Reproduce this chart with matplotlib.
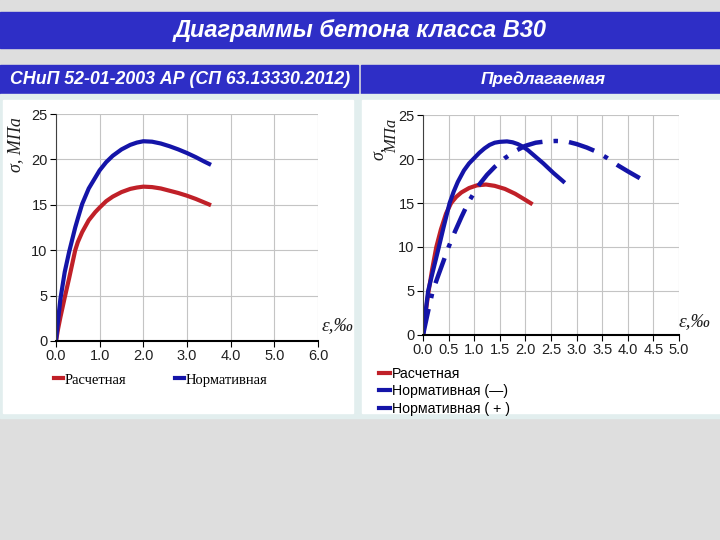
import matplotlib
matplotlib.use("Agg")
import matplotlib.pyplot as plt
from matplotlib.patches import Rectangle
from matplotlib.lines import Line2D

# --- data ---
title = "Диаграммы бетона класса В30"
header_left = "СНиП 52-01-2003 АР (СП 63.13330.2012)"
header_right = "Предлагаемая"

# left chart (SNiP)
eps_left = [0, 0.05, 0.1, 0.2, 0.3, 0.44, 0.5, 0.6, 0.75, 0.9, 1.0, 1.15, 1.3, 1.5, 1.7, 1.85, 2.0,
            2.2, 2.4, 2.6, 2.8, 3.0, 3.2, 3.4, 3.55]
calc_left = [0, 1.4, 2.6, 4.8, 6.9, 10.0, 10.9, 12.0, 13.3, 14.2, 14.7, 15.4, 15.9, 16.4, 16.75, 16.9, 17.0,
             16.95, 16.8, 16.55, 16.3, 16.0, 15.65, 15.25, 14.95]
norm_left = [0, 2.4, 4.6, 7.6, 9.8, 12.5, 13.5, 15.1, 16.8, 18.0, 18.8, 19.7, 20.4, 21.1, 21.6, 21.85, 22.0,
             21.95, 21.75, 21.45, 21.1, 20.7, 20.25, 19.75, 19.4]
xticks_left = [0, 1, 2, 3, 4, 5, 6]

# right chart (proposed)
eps_calc_right = [0, 0.05, 0.11, 0.18, 0.26, 0.35, 0.45, 0.55, 0.65, 0.75, 0.9, 1.05, 1.23, 1.4, 1.6,
                  1.8, 2.0, 2.14]
calc_right = [0, 2.5, 5.0, 7.5, 10.0, 12.0, 13.8, 15.0, 15.7, 16.2, 16.7, 17.0, 17.1, 16.95, 16.6,
              16.05, 15.35, 14.85]
eps_norm_right = [0, 0.05, 0.1, 0.2, 0.31, 0.4, 0.52, 0.6, 0.68, 0.8, 0.9, 1.0, 1.1, 1.2, 1.3, 1.4, 1.5,
                  1.64, 1.75, 1.85, 1.95, 2.05, 2.15, 2.25, 2.35, 2.45, 2.55, 2.65, 2.77]
norm_right = [0, 2.6, 5.0, 7.4, 10.0, 12.2, 15.0, 16.3, 17.4, 18.7, 19.5, 20.1, 20.7, 21.2, 21.6, 21.85, 21.95,
              22.0, 21.9, 21.7, 21.4, 21.0, 20.5, 20.0, 19.5, 18.95, 18.4, 17.9, 17.3]
eps_plus_right = [0, 0.1, 0.19, 0.3, 0.4, 0.5, 0.62, 0.75, 0.88, 1.0, 1.1, 1.25, 1.4, 1.6, 1.8, 2.0, 2.2,
                  2.4, 2.6, 2.8, 3.0, 3.2, 3.4, 3.6, 3.8, 4.0, 4.15, 4.3]
plus_right = [0, 2.7, 5.0, 6.8, 8.4, 10.0, 11.7, 13.4, 15.0, 16.2, 17.1, 18.2, 19.1, 20.1, 20.9, 21.5, 21.85,
              22.0, 22.05, 22.0, 21.7, 21.3, 20.8, 20.1, 19.3, 18.6, 18.1, 17.6]
xticks_right = [0, 0.5, 1, 1.5, 2, 2.5, 3, 3.5, 4, 4.5, 5]

yticks = [0, 5, 10, 15, 20, 25]

red = '#C02028'
blue = '#1414A8'
bar_blue = '#2E2EC6'
W, H = 720, 540

fig = plt.figure(figsize=(7.2, 5.4), dpi=100)
fig.patch.set_facecolor('#DCDCDC')

# background layer in pixel coordinates
bg = fig.add_axes([0, 0, 1, 1], zorder=0)
bg.set_xlim(0, W)
bg.set_ylim(H, 0)
bg.axis('off')
bg.add_patch(Rectangle((0, 0), W, H, color='#DEDEDE'))
bg.add_patch(Rectangle((0, 12), W, 36, color=bar_blue))
bg.text(W / 2, 31, title, color='white', fontsize=17, fontweight='bold', style='italic',
        family='Liberation Sans', ha='center', va='center')
bg.add_patch(Rectangle((0, 65), 358, 29, color=bar_blue))
bg.add_patch(Rectangle((361, 65), 359, 29, color=bar_blue))
bg.text(180, 79.5, header_left, color='white', fontsize=12.8, fontweight='bold', style='italic',
        family='Liberation Sans', ha='center', va='center')
bg.text(543, 79.5, header_right, color='white', fontsize=12.5, fontweight='bold', style='italic',
        family='Liberation Sans', ha='center', va='center')
bg.add_patch(Rectangle((0, 94), W, 324, color='#E2EEEE'))
bg.add_patch(Rectangle((3, 100), 350, 313, color='white'))
bg.add_patch(Rectangle((362, 100), 358, 313, color='white'))


def style_axes(ax, xticks, xfmt):
    ax.set_facecolor('white')
    ax.set_ylim(0, 25)
    ax.set_xlim(xticks[0], xticks[-1])
    ax.set_yticks(yticks)
    ax.set_xticks(xticks)
    ax.set_xticklabels([xfmt.format(t) for t in xticks])
    ax.grid(True, color='#C4C4C4', linewidth=0.8)
    ax.set_axisbelow(True)
    for s in ['top', 'right']:
        ax.spines[s].set_visible(False)
    ax.spines['left'].set_color('#404040')
    ax.spines['bottom'].set_color('black')
    ax.spines['bottom'].set_linewidth(1.5)
    ax.tick_params(axis='both', labelsize=10.5, length=4, color='black', pad=2)
    for lbl in ax.get_xticklabels() + ax.get_yticklabels():
        lbl.set_family('Liberation Sans')
        lbl.set_color('#202020')


# left chart
ax1 = fig.add_axes([56 / W, 1 - 341 / H, 262 / W, 227 / H], zorder=2)
style_axes(ax1, xticks_left, '{:.1f}')
ax1.plot(eps_left, calc_left, color=red, linewidth=3, solid_capstyle='butt', solid_joinstyle='round')
ax1.plot(eps_left, norm_left, color=blue, linewidth=3, solid_capstyle='butt', solid_joinstyle='round')

# right chart
ax2 = fig.add_axes([423 / W, 1 - 335 / H, 256 / W, 220 / H], zorder=2)
style_axes(ax2, xticks_right, '{:.1f}')
ax2.plot(eps_calc_right, calc_right, color=red, linewidth=3, solid_capstyle='butt', solid_joinstyle='round')
ax2.plot(eps_norm_right, norm_right, color=blue, linewidth=3, solid_capstyle='butt', solid_joinstyle='round')
ax2.plot(eps_plus_right, plus_right, color=blue, linewidth=3.2, linestyle=(0, (6, 2.5, 1, 2.5)))

# axis captions (serif italic)
serif = dict(family='Liberation Serif', style='italic', color='#202020')
bg.text(16, 145, 'σ, МПа', rotation=90, fontsize=13, ha='center', va='center', **serif)
bg.text(338, 326, 'ε,‰', fontsize=14, ha='center', va='center', **serif)
bg.text(378, 153, 'σ,', rotation=90, fontsize=13, ha='center', va='center', **serif)
bg.text(392, 136, 'МПа', rotation=90, fontsize=12, ha='center', va='center', **serif)
bg.text(695, 322, 'ε,‰', fontsize=14, ha='center', va='center', **serif)

# left legend
h_left = [Line2D([], [], color=red, linewidth=3), Line2D([], [], color=blue, linewidth=3)]
fig.legend(h_left, ['Расчетная', 'Нормативная'], loc='center left',
           bbox_to_anchor=(41 / W, 1 - 380 / H), ncol=2, frameon=False, handlelength=0.6,
           handletextpad=0.15, columnspacing=3.3, prop={'family': 'Liberation Serif', 'size': 10.5})

# right legend
h_right = [Line2D([], [], color=red, linewidth=3), Line2D([], [], color=blue, linewidth=3),
           Line2D([], [], color=blue, linewidth=3)]
fig.legend(h_right, ['Расчетная', 'Нормативная (—)', 'Нормативная ( + )'], loc='upper left',
           bbox_to_anchor=(366 / W, 1 - 354 / H), ncol=1, frameon=False, handlelength=0.8,
           handletextpad=0.15, labelspacing=0.25, prop={'family': 'Liberation Sans', 'size': 10.2})

fig.savefig('out.png', dpi=100, facecolor=fig.get_facecolor())
